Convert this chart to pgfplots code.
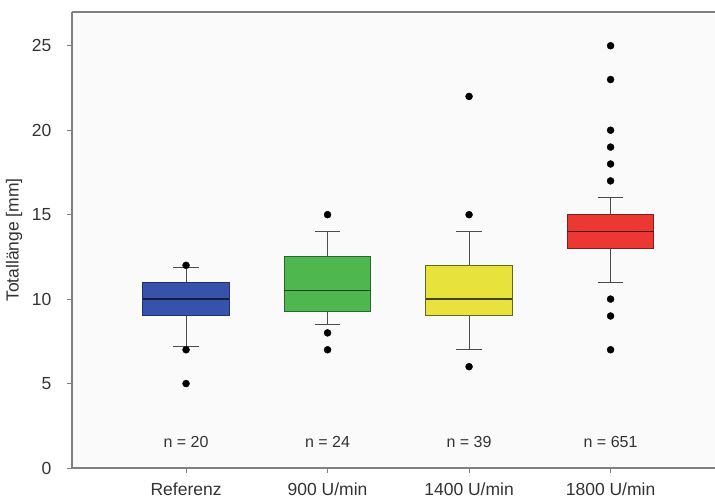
\documentclass[border=0pt]{standalone}
\usepackage{pgfplots}
\pgfplotsset{compat=1.18}
\usepackage{fontspec}
\setmainfont{Liberation Sans}
\definecolor{cblue}{RGB}{56,82,172}
\definecolor{cgreen}{RGB}{78,184,78}
\definecolor{cyellow}{RGB}{232,226,60}
\definecolor{cred}{RGB}{236,56,50}
\definecolor{axgray}{RGB}{128,128,128}
\begin{document}
\begin{tikzpicture}
\begin{axis}[
  scale only axis,
  width=643pt, height=456pt,
  xmin=0.194, xmax=4.738,
  ymin=0, ymax=27,
  axis x line*=bottom, axis y line*=left,
  axis line style={axgray, line width=1.1pt},
  axis background/.style={fill=black!2},
  xtick={1,2,3,4},
  xticklabels={Referenz,900 U/min,1400 U/min,1800 U/min},
  ytick={0,5,10,15,20,25},
  tick align=outside,
  major tick length=5pt,
  tick style={axgray, line width=0.8pt},
  ticklabel style={font=\fontsize{17.5}{19}\selectfont, text=black!80},
  xticklabel style={yshift=-6pt},
  yticklabel style={xshift=-12pt},
  /pgf/number format/assume math mode=true,
  ylabel={Totallänge [mm]},
  every axis y label/.style={at={(rel axis cs:0,0.5)}, rotate=90, anchor=center, yshift=58pt},
  ylabel style={font=\fontsize{17.5}{19}\selectfont, text=black!80},
  whisk/.style={black!70, line width=0.9pt, forget plot},
  outl/.style={only marks, mark=*, mark size=3.5pt, black, forget plot},
  clip=false,
]
% ---- Referenz ----
\addplot[whisk] coordinates {(1,7.2) (1,9)};
\addplot[whisk] coordinates {(1,11) (1,11.9)};
\addplot[whisk] coordinates {(0.91,7.2) (1.09,7.2)};
\addplot[whisk] coordinates {(0.91,11.9) (1.09,11.9)};
\addplot[fill=cblue, draw=cblue!60!black, line width=1pt] coordinates {(0.695,9) (1.305,9) (1.305,11) (0.695,11)} -- cycle;
\addplot[cblue!35!black, line width=1.4pt] coordinates {(0.695,10) (1.305,10)};
\addplot[outl] coordinates {(1,12) (1,7) (1,5)};
% ---- 900 U/min ----
\addplot[whisk] coordinates {(2,8.5) (2,9.25)};
\addplot[whisk] coordinates {(2,12.5) (2,14)};
\addplot[whisk] coordinates {(1.91,8.5) (2.09,8.5)};
\addplot[whisk] coordinates {(1.91,14) (2.09,14)};
\addplot[fill=cgreen, draw=cgreen!55!black, line width=1pt] coordinates {(1.695,9.25) (2.305,9.25) (2.305,12.5) (1.695,12.5)} -- cycle;
\addplot[cgreen!35!black, line width=1.4pt] coordinates {(1.695,10.5) (2.305,10.5)};
\addplot[outl] coordinates {(2,15) (2,8) (2,7)};
% ---- 1400 U/min ----
\addplot[whisk] coordinates {(3,7) (3,9)};
\addplot[whisk] coordinates {(3,12) (3,14)};
\addplot[whisk] coordinates {(2.91,7) (3.09,7)};
\addplot[whisk] coordinates {(2.91,14) (3.09,14)};
\addplot[fill=cyellow, draw=cyellow!45!black, line width=1pt] coordinates {(2.695,9) (3.305,9) (3.305,12) (2.695,12)} -- cycle;
\addplot[cyellow!30!black, line width=1.4pt] coordinates {(2.695,10) (3.305,10)};
\addplot[outl] coordinates {(3,22) (3,15) (3,6)};
% ---- 1800 U/min ----
\addplot[whisk] coordinates {(4,11) (4,13)};
\addplot[whisk] coordinates {(4,15) (4,16)};
\addplot[whisk] coordinates {(3.91,11) (4.09,11)};
\addplot[whisk] coordinates {(3.91,16) (4.09,16)};
\addplot[fill=cred, draw=cred!55!black, line width=1pt] coordinates {(3.695,13) (4.305,13) (4.305,15) (3.695,15)} -- cycle;
\addplot[cred!35!black, line width=1.4pt] coordinates {(3.695,14) (4.305,14)};
\addplot[outl] coordinates {(4,25) (4,23) (4,20) (4,19) (4,18) (4,17) (4,10) (4,9) (4,7)};
\draw[axgray, line width=1.1pt] (rel axis cs:0,1) -- (rel axis cs:1,1);
\node[font=\fontsize{16}{18}\selectfont, text=black!80] at (axis cs:1,1.55) {n = 20};
\node[font=\fontsize{16}{18}\selectfont, text=black!80] at (axis cs:2,1.55) {n = 24};
\node[font=\fontsize{16}{18}\selectfont, text=black!80] at (axis cs:3,1.55) {n = 39};
\node[font=\fontsize{16}{18}\selectfont, text=black!80] at (axis cs:4,1.55) {n = 651};
\end{axis}
\pgfresetboundingbox
\path (current axis.south west) ++(-72pt,-34pt) rectangle ++(715pt,502pt);
\end{tikzpicture}
\end{document}
